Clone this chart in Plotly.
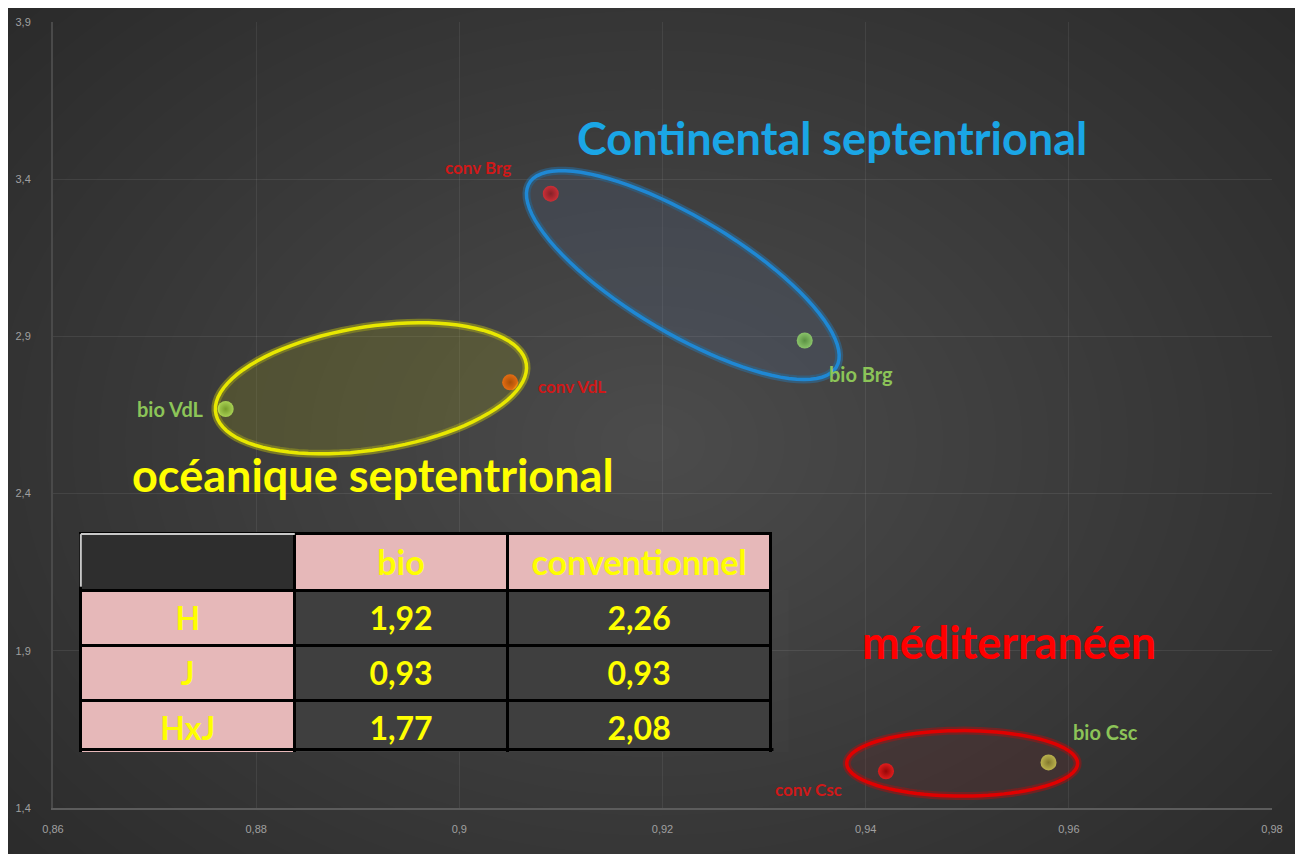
import numpy as np
import plotly.graph_objects as go

# points (Shannon H vs Pielou J style scatter)
names = ["conv Brg", "bio Brg", "conv VdL", "bio VdL", "conv Csc", "bio Csc"]
x_vals = [0.909, 0.934, 0.905, 0.877, 0.942, 0.958]
y_vals = [3.354, 2.887, 2.754, 2.669, 1.517, 1.545]
pt_colors = ["#e82020", "#96d860", "#ff6010", "#aee466", "#ff1a1a", "#d0d858"]
pt_edges = ["#901010", "#5c9a30", "#b03a00", "#6ea030", "#a00000", "#8a9030"]

# table
row_names = ["H", "J", "HxJ"]
col_names = ["bio", "conventionnel"]
bio_vals = ["1,92", "0,93", "1,77"]
conv_vals = ["2,26", "0,93", "2,08"]

# page is offset by the 8px body margin
OFF = 8
W, H = 1303 - OFF, 854 - OFF
L, R, T, B = 47 - OFF, 31, 16 - OFF, 46
pw, ph = W - L - R, H - T - B
x_rng = [0.86, 0.98]
y_rng = [1.4, 3.9]
sx = pw / (x_rng[1] - x_rng[0])
sy = ph / (y_rng[1] - y_rng[0])


def px2paper(px, py):
    # px, py are screen pixels of the reference
    return (px - OFF - L) / pw, (H - B - (py - OFF)) / ph


def ellipse_path(cx, cy, a_px, b_px, ang_deg, n=90):
    t = np.linspace(0, 2 * np.pi, n)
    ang = np.radians(ang_deg)
    dx = a_px * np.cos(t) * np.cos(ang) - b_px * np.sin(t) * np.sin(ang)
    dy = a_px * np.cos(t) * np.sin(ang) + b_px * np.sin(t) * np.cos(ang)
    xs = cx + dx / sx
    ys = cy - dy / sy
    p = "M %f,%f " % (xs[0], ys[0])
    p += " ".join("L %f,%f" % (a, b) for a, b in zip(xs[1:], ys[1:]))
    return p + " Z"


fig = go.Figure()

shapes = []
# radial lightening toward centre
N = 36
cxp, cyp = px2paper(650, 440)
for i in range(N):
    f = 1 - i / N
    rx = 0.78 * f
    ry = 0.9 * f
    shapes.append(dict(type="circle", xref="paper", yref="paper",
                       x0=cxp - rx, x1=cxp + rx, y0=cyp - ry, y1=cyp + ry,
                       fillcolor="rgba(255,255,255,0.0065)", line_width=0, layer="below"))

# group ellipses
ells = [
    (0.922, 3.095, 180, 58, 31, "rgba(90,110,150,0.55)", "#1f88d4"),
    (0.8913, 2.735, 158, 62, -9, "rgba(150,150,30,0.7)", "#e8e800"),
    (0.9495, 1.542, 116, 33, 0, "rgba(110,40,40,0.6)", "#e00000"),
]
for cx, cy, a, b, ang, fc, lc in ells:
    path = ellipse_path(cx, cy, a, b, ang)
    shapes.append(dict(type="path", path=path, xref="x", yref="y",
                       fillcolor=fc, line=dict(color=lc, width=8), opacity=0.35))
    shapes.append(dict(type="path", path=path, xref="x", yref="y",
                       fillcolor="rgba(0,0,0,0)", line=dict(color=lc, width=3.5)))

# top-left table cell light border
tx0, ty0 = px2paper(75, 532)
tx1, _ = px2paper(290, 532)
_, ty1 = px2paper(75, 585)
shapes.append(dict(type="line", xref="paper", yref="paper", x0=tx0, x1=tx1, y0=ty0, y1=ty0,
                   line=dict(color="#c8c8c8", width=2)))
shapes.append(dict(type="line", xref="paper", yref="paper", x0=tx0, x1=tx0, y0=ty0, y1=ty1,
                   line=dict(color="#c8c8c8", width=2)))
# bottom border of the table
bx0, by0 = px2paper(76, 749)
bx1, _ = px2paper(771, 749)
shapes.append(dict(type="line", xref="paper", yref="paper", x0=bx0, x1=bx1, y0=by0, y1=by0,
                   line=dict(color="#000000", width=3)))

fig.add_trace(go.Scatter(
    x=x_vals, y=y_vals, mode="markers", showlegend=False, hoverinfo="skip",
    marker=dict(size=16, color=pt_colors, line=dict(width=0),
                gradient=dict(type="radial", color=pt_edges)),
))

# table
tdx0, tdy0 = px2paper(75, 752)
tdx1, tdy1 = px2paper(769, 531)
pink = "#e6b8b9"
dark = "#3f3f3f"
fig.add_trace(go.Table(
    domain=dict(x=[tdx0, tdx1], y=[tdy0, tdy1]),
    columnwidth=[215, 214, 265],
    header=dict(values=[""] + ["<b>%s</b>" % c for c in col_names],
                fill_color=["#2e2e2e", pink, pink],
                line=dict(color="#000000", width=3),
                font=dict(family="Lato", size=34, color="#ffff00"),
                align="center", height=53),
    cells=dict(values=[["<b>%s</b>" % r for r in row_names],
                       ["<b>%s</b>" % v for v in bio_vals],
                       ["<b>%s</b>" % v for v in conv_vals]],
               fill_color=[[pink] * 3, [dark] * 3, [dark] * 3],
               line=dict(color="#000000", width=3),
               font=dict(family="Lato", size=32, color="#ffff00"),
               align="center", height=53),
))

annos = []
# point labels
lab_pos = [
    ("right", -38, 26),
    ("left", 22, -34),
    ("left", 26, -4),
    ("right", -20, 0),
    ("right", -42, -18),
    ("left", 22, 30),
]
for nm, xv, yv, (xa, xs, ys) in zip(names, x_vals, y_vals, lab_pos):
    is_bio = nm.startswith("bio")
    annos.append(dict(
        x=xv, y=yv, xref="x", yref="y", text="<b>%s</b>" % nm, showarrow=False,
        xanchor=xa, yanchor="middle", xshift=xs, yshift=ys,
        font=dict(family="Lato", size=20 if is_bio else 17,
                  color="#8cc458" if is_bio else "#d01818"),
    ))

# group titles
titles = [
    ("Continental septentrional", 572, 133, "#1aa6e6"),
    ("océanique septentrional", 124, 472, "#ffff00"),
    ("méditerranéen", 858, 641, "#ff0000"),
]
for txt, px, py, col in titles:
    xp, yp = px2paper(px, py)
    annos.append(dict(x=xp, y=yp, xref="paper", yref="paper", text="<b>%s</b>" % txt,
                      showarrow=False, xanchor="left", yanchor="middle",
                      font=dict(family="Lato", size=45, color=col)))

fig.update_layout(
    width=W, height=H,
    margin=dict(l=L, r=R, t=T, b=B),
    paper_bgcolor="#272727",
    plot_bgcolor="rgba(0,0,0,0)",
    separators=", ",
    shapes=shapes,
    annotations=annos,
    showlegend=False,
    xaxis=dict(range=x_rng, dtick=0.02, tick0=0.86, showgrid=True,
               gridcolor="rgba(255,255,255,0.07)", zeroline=False,
               showline=True, linecolor="#5c5c5c", linewidth=2,
               ticks="outside", ticklen=10, tickcolor="rgba(0,0,0,0)",
               tickfont=dict(family="Liberation Sans Narrow, Liberation Sans", size=11, color="#a0a0a0")),
    yaxis=dict(range=y_rng, dtick=0.5, tick0=1.4, showgrid=True,
               gridcolor="rgba(255,255,255,0.08)", zeroline=False,
               showline=True, linecolor="#4a4a4a", linewidth=2,
               ticks="outside", ticklen=18, tickcolor="rgba(0,0,0,0)",
               tickfont=dict(family="Liberation Sans Narrow, Liberation Sans", size=11, color="#a0a0a0")),
)

fig.write_html("out.html")
